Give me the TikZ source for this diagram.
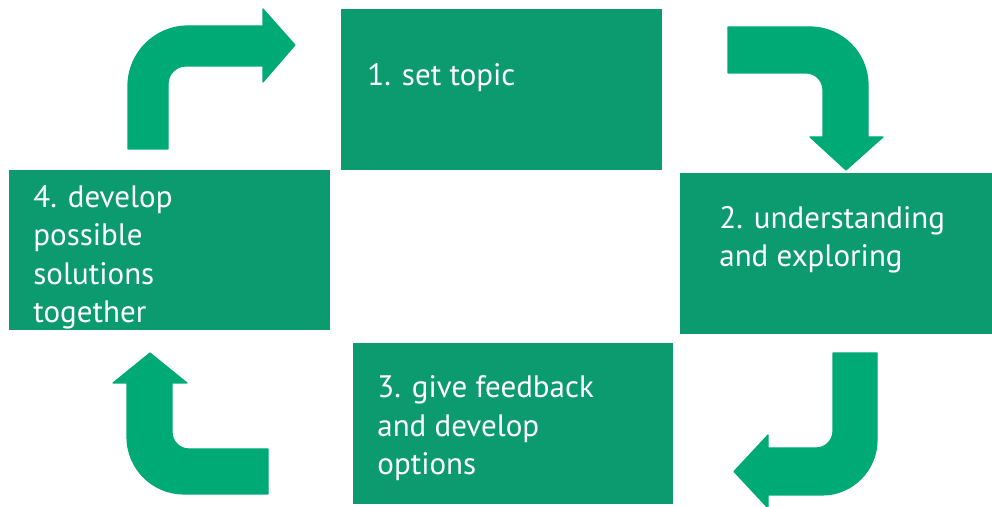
\documentclass[tikz,border=0pt]{standalone}
\usepackage{fontspec}
\setmainfont{PT Sans}
\usetikzlibrary{positioning}

\newlength{\du}
\setlength{\du}{0.5pt}

\definecolor{boxgreen}{RGB}{12,155,110}
\definecolor{arrowgreen}{RGB}{0,170,116}

\tikzset{
  stepbox/.style={fill=boxgreen, draw=none, inner sep=0pt, anchor=north west},
  % base anchor sits on the last line
  steptext/.style={text=white, align=left, inner sep=0pt, anchor=base west,
    font=\fontsize{15.5}{19.25}\selectfont},
  bendarrow/.style={fill=arrowgreen, draw=arrowgreen, line width=0.6pt, line join=round}
}

\begin{document}
\begin{tikzpicture}
\pgftransformyscale{-1}
\useasboundingbox (0\du,0\du) rectangle (992\du,507\du);
\clip (0\du,0\du) rectangle (992\du,507\du);

% the four steps
\node[stepbox, minimum width=321\du, minimum height=161\du] (topic) at (341\du,9\du) {};
\node[stepbox, minimum width=312\du, minimum height=161\du] (explore) at (680\du,173\du) {};
\node[stepbox, minimum width=320\du, minimum height=161\du] (feedback) at (353\du,343\du) {};
\node[stepbox, minimum width=321\du, minimum height=160\du] (solutions) at (9\du,170\du) {};

\node[steptext] (topictext) at (367\du,86\du) {1. set topic};
\node[steptext] (exploretext) at (719\du,267\du) {2. understanding\\and exploring};
\node[steptext] (feedbacktext) at (377\du,475\du) {3. give feedback\\and develop\\options};
\node[steptext] (solutionstext) at (33\du,323\du) {4. develop\\possible\\solutions\\together};

% bent arrows between the steps
\draw[bendarrow] (128\du,149\du) -- (128\du,86\du)
  arc[start angle=180, end angle=270, radius=60\du]
  -- (263\du,26\du) -- (263\du,9\du) -- (295\du,45\du) -- (263\du,82\du) -- (263\du,66\du)
  -- (186\du,66\du) arc[start angle=270, end angle=180, radius=18\du]
  -- (168\du,149\du) -- cycle;

\draw[bendarrow] (728\du,27\du) -- (810\du,27\du)
  arc[start angle=270, end angle=360, radius=58\du]
  -- (868\du,137\du) -- (883\du,137\du) -- (846\du,170\du) -- (810\du,137\du) -- (823\du,137\du)
  -- (823\du,90\du) arc[start angle=0, end angle=-90, radius=17\du]
  -- (728\du,73\du) -- cycle;

\draw[bendarrow] (833\du,353\du) -- (877\du,353\du) -- (877\du,440\du)
  arc[start angle=0, end angle=90, radius=55\du]
  -- (768\du,495\du) -- (768\du,508\du) -- (734\du,471.5\du) -- (768\du,435\du) -- (768\du,448\du)
  -- (816\du,448\du) arc[start angle=90, end angle=0, radius=17\du]
  -- cycle;

\draw[bendarrow] (268\du,494\du) -- (184\du,494\du)
  arc[start angle=90, end angle=180, radius=57\du]
  -- (127\du,383\du) -- (113\du,383\du) -- (150\du,353\du) -- (187\du,383\du) -- (172\du,383\du)
  -- (172\du,432\du) arc[start angle=180, end angle=90, radius=17\du]
  -- (268\du,449\du) -- cycle;
\end{tikzpicture}
\end{document}
